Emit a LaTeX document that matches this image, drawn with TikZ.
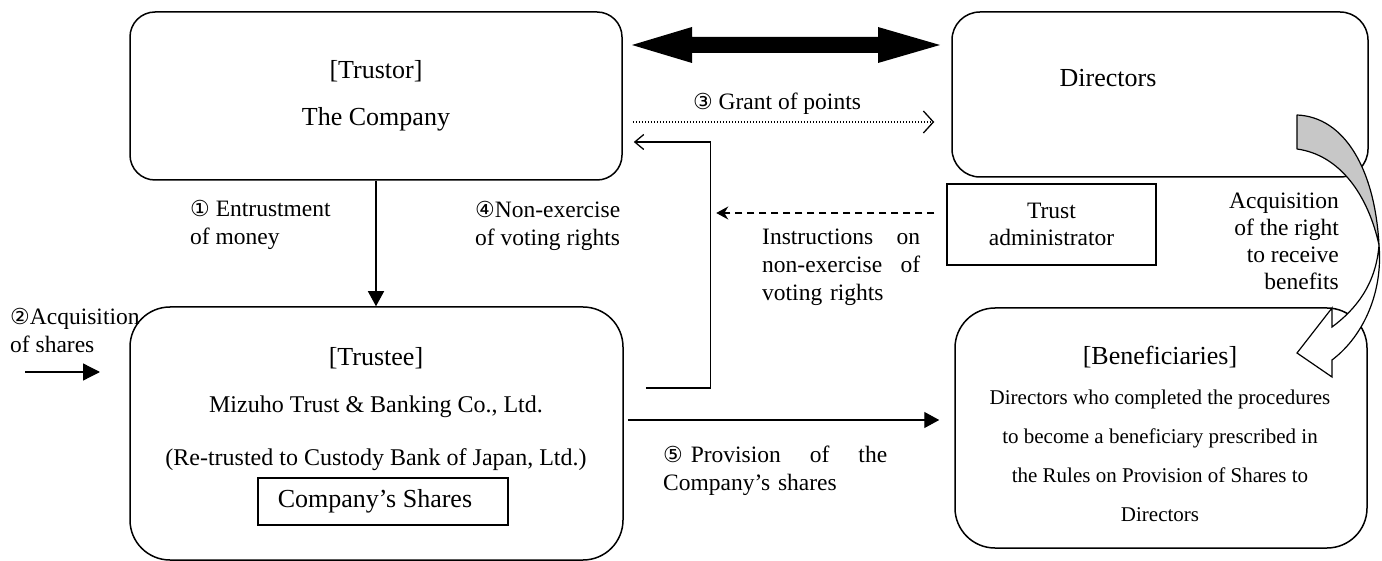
\documentclass[tikz,border=0pt]{standalone}
\usepackage{fontspec}
\setmainfont{Liberation Serif}
\newfontfamily\circf{DejaVu Sans}
\newcommand{\cnum}[1]{{\circf\fontsize{22}{22}\selectfont #1}}
\usetikzlibrary{arrows.meta}
\begin{document}
\begin{tikzpicture}[x=1pt,y=-1pt,font=\fontsize{23.5}{28}\selectfont,
  box/.style={draw, line width=1.5pt, inner sep=0pt, align=center},
  txt/.style={inner sep=0pt, align=center},
  big/.style={font=\fontsize{26}{30}\selectfont},
  mid/.style={font=\fontsize{24}{28}\selectfont},
  lbl/.style={inner sep=0pt, align=left},
  conn/.style={line width=1.3pt},
  solidtip/.style={-{Triangle[length=15pt,width=16pt]}}]
\useasboundingbox (0,0) rectangle (1382,561);

% boxes
\node[box, rounded corners=25pt, minimum width=492pt, minimum height=168pt,
      font=\fontsize{26}{47}\selectfont] (trustor) at (376,96) {[Trustor]\\The Company};
\node[box, rounded corners=28pt, minimum width=416pt, minimum height=165pt] (directors) at (1160,94.5) {};
\node[txt, big] (dirtext) at (1108,78) {Directors};
\node[box, rounded corners=40pt, minimum width=493pt, minimum height=253pt] (trustee) at (376.5,433.5) {};
\node[txt, big] (trusteeT) at (376,358) {[Trustee]};
\node[txt, mid] (mizuho) at (376,407) {Mizuho Trust \& Banking Co., Ltd.};
\node[txt, mid] (retrust) at (376,460) {(Re-trusted to Custody Bank of Japan, Ltd.)};
\node[box, minimum width=250pt, minimum height=47pt] (shares) at (383,501.5) {};
\node[txt, big, xshift=-8pt] (sharesT) at (shares) {Company’s Shares};
\node[box, rounded corners=40pt, minimum width=412pt, minimum height=240pt] (benef) at (1161,428) {};
\node[txt, big] (beneT) at (1160,357) {[Beneficiaries]};
\node[txt, font=\fontsize{21}{39}\selectfont] (beneB) at (1160,456)
  {Directors who completed the procedures\\to become a beneficiary prescribed in\\the Rules on Provision of Shares to\\Directors};
\node[box, minimum width=209pt, minimum height=81pt, font=\fontsize{23.5}{27}\selectfont] (admin) at (1051.5,224.5) {Trust\\administrator};

% thick double arrow
\fill (632,45) -- (692,27) -- (692,37) -- (878,37) -- (878,27) -- (940,45)
  -- (878,63) -- (878,53) -- (692,53) -- (692,63) -- cycle;

% curved block arrow
\filldraw[fill=black!22, line width=1.2pt, line join=round]
  (1297,115) .. controls (1345,117) and (1375,170) .. (1379,245)
  .. controls (1368,195) and (1340,155) .. (1297,149) -- cycle;
\filldraw[fill=white, line width=1.2pt, line join=miter]
  (1379,245) .. controls (1383,290) and (1365,335) .. (1332,360)
  -- (1332,377) -- (1297,353) -- (1332,308) -- (1332,327)
  .. controls (1355,310) and (1376,285) .. (1379,245) -- cycle;

% connectors
\draw[conn, solidtip] (trustor.south) -- (trustor.south |- trustee.north);
\coordinate (a2s) at (25,372);
\coordinate (a2e) at (100,372);
\draw[conn, -{Triangle[length=17pt,width=17pt]}] (a2s) -- (a2e);
\draw[conn, dash pattern=on 1.5pt off 1.5pt, -{Straight Barb[length=10pt,width=22pt]}]
  ([xshift=10pt,yshift=-26pt]trustor.east) -- ([xshift=-17pt,yshift=-27.5pt]directors.west);
\draw[conn, -{Straight Barb[length=9pt,width=15pt]}]
  ([xshift=22pt,yshift=45.5pt]trustee.east) -- ++(65,0) |- ([xshift=11pt,yshift=-46pt]trustor.east);
\draw[conn, dash pattern=on 7pt off 5pt, -{Stealth[length=12pt,width=13pt]}]
  ([xshift=-12pt,yshift=11.5pt]admin.west) -- ++(-218,0);
\draw[conn, solidtip] ([xshift=4pt,yshift=13.5pt]trustee.east) -- ([xshift=-15pt,yshift=8pt]benef.west);

% labels
\node[lbl, anchor=west] (l1) at (190,225) {\cnum{①} Entrustment\\of money};
\node[lbl, anchor=west] (l2) at (10,330) {\cnum{②}Acquisition\\of shares};
\node[txt] (l3) at (777,104) {\cnum{③} Grant of points};
\node[lbl, anchor=west] (l4) at (475,226) {\cnum{④}Non-exercise\\of voting rights};
\node[lbl, anchor=west, text width=158pt] (linstr) at (762,267)
  {Instructions\hfill on\\non-exercise\hfill of\\voting rights};
\node[lbl, anchor=west, text width=224pt] (l5) at (663,471)
  {\cnum{⑤} Provision\hfill of\hfill the\\Company’s shares};
\node[inner sep=0pt, align=right, anchor=east, font=\fontsize{23.5}{27}\selectfont] (lacq) at (1339,241)
  {Acquisition\\of the right\\to receive\\benefits};
\end{tikzpicture}
\end{document}
